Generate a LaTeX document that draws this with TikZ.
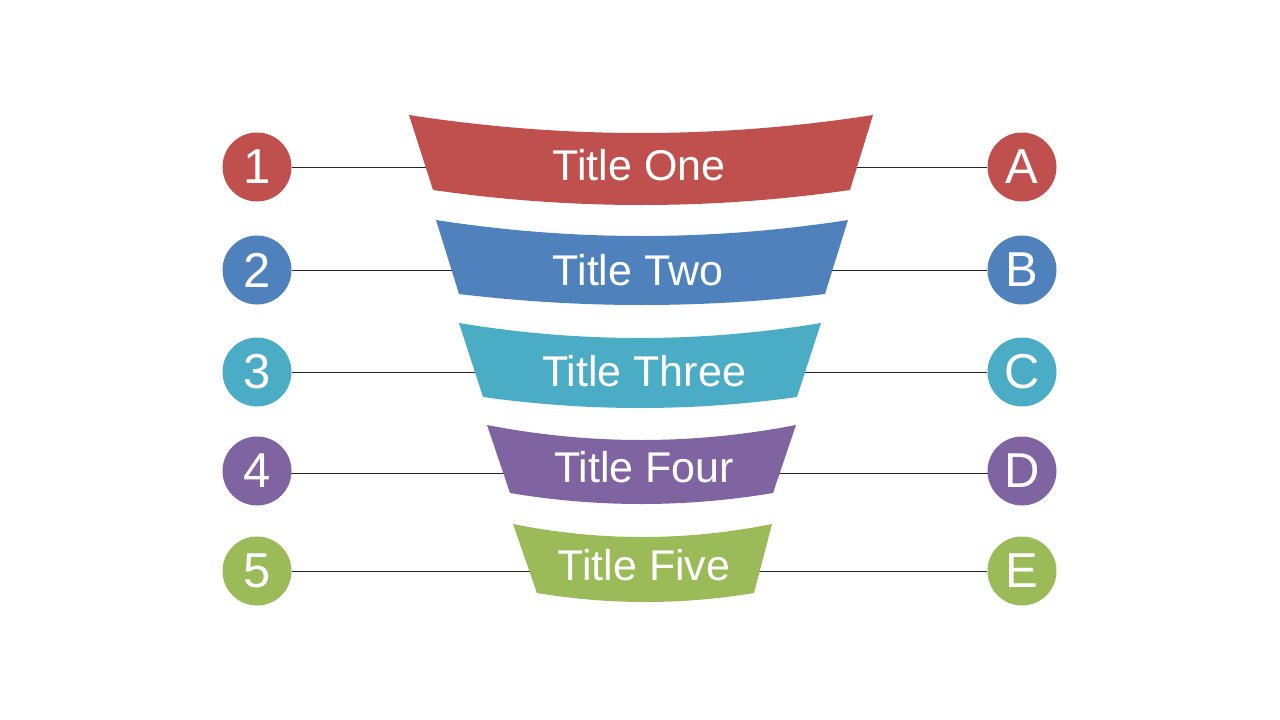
\documentclass[tikz,border=0pt]{standalone}
\usepackage{fontspec}
\setmainfont{Liberation Sans}
\usetikzlibrary{backgrounds}
\definecolor{cred}{HTML}{C0504D}
\definecolor{cblue}{HTML}{4F81BD}
\definecolor{cteal}{HTML}{4BACC6}
\definecolor{cpurple}{HTML}{8064A2}
\definecolor{cgreen}{HTML}{9BBB59}
% #1 colour, #2 x top-left, #3 x top-right, #4 y top, #5 y top middle,
% #6 x bottom-left, #7 x bottom-right, #8 y bottom, #9 y bottom middle
\newcommand\funnelseg[9]{%
  \fill[#1] (#2,#4)
    .. controls ({#2+2/3*((#2+#3)/2-#2)},{#4+4/3*(#5-#4)}) and ({#3-2/3*(#3-(#2+#3)/2)},{#4+4/3*(#5-#4)}) .. (#3,#4)
    -- (#7,#8)
    .. controls ({#7-2/3*(#7-(#6+#7)/2)},{#8+4/3*(#9-#8)}) and ({#6+2/3*((#6+#7)/2-#6)},{#8+4/3*(#9-#8)}) .. (#6,#8)
    -- cycle;}
\begin{document}
\begin{tikzpicture}[x=1pt,y=-1pt,
  badge/.style={circle,fill=#1,minimum size=69pt,inner sep=0pt,text=white,
    font=\fontsize{49}{56}\selectfont},
  ttl/.style={text=white,anchor=base,inner sep=0pt,font=\fontsize{43}{50}\selectfont},
  link/.style={draw=black!85,line width=0.9pt}]
\useasboundingbox (0,0) rectangle (1280,720);
% badges
\node[badge=cred]    (n1) at (257,167) {1};
\node[badge=cblue]   (n2) at (257,270) {2};
\node[badge=cteal]   (n3) at (257,372) {3};
\node[badge=cpurple] (n4) at (257,471) {4};
\node[badge=cgreen]  (n5) at (257,571) {5};
\node[badge=cred]    (la) at (1022,167) {A};
\node[badge=cblue]   (lb) at (1022,270) {B};
\node[badge=cteal]   (lc) at (1022,372) {C};
\node[badge=cpurple] (ld) at (1022,471) {D};
\node[badge=cgreen]  (le) at (1022,571) {E};
% funnel segments
\funnelseg{cred}{409}{873}{115}{133}{433}{850}{190}{205}
\funnelseg{cblue}{436}{848}{220}{236}{459}{825}{294}{305}
\funnelseg{cteal}{459}{821}{323}{338}{483}{797}{397}{408}
\funnelseg{cpurple}{487}{796}{425}{440}{510}{773}{493}{504}
\funnelseg{cgreen}{513}{772}{524}{537}{537}{754}{593}{602}
% titles
\node[ttl] (t1) at (639,180) {Title One};
\node[ttl] (t2) at (638,285) {Title Two};
\node[ttl] (t3) at (644,386) {Title Three};
\node[ttl] (t4) at (644,482) {Title Four};
\node[ttl] (t5) at (644,580) {Title Five};
% connectors (behind everything)
\begin{scope}[on background layer]
\draw[link] (n1) -- (la);
\draw[link] (n2) -- (lb);
\draw[link] (n3) -- (lc);
\draw[link] ([yshift=-2pt]n4.center) -- ([yshift=-2pt]ld.center);
\draw[link] (n5) -- (le);
\end{scope}
\end{tikzpicture}
\end{document}
